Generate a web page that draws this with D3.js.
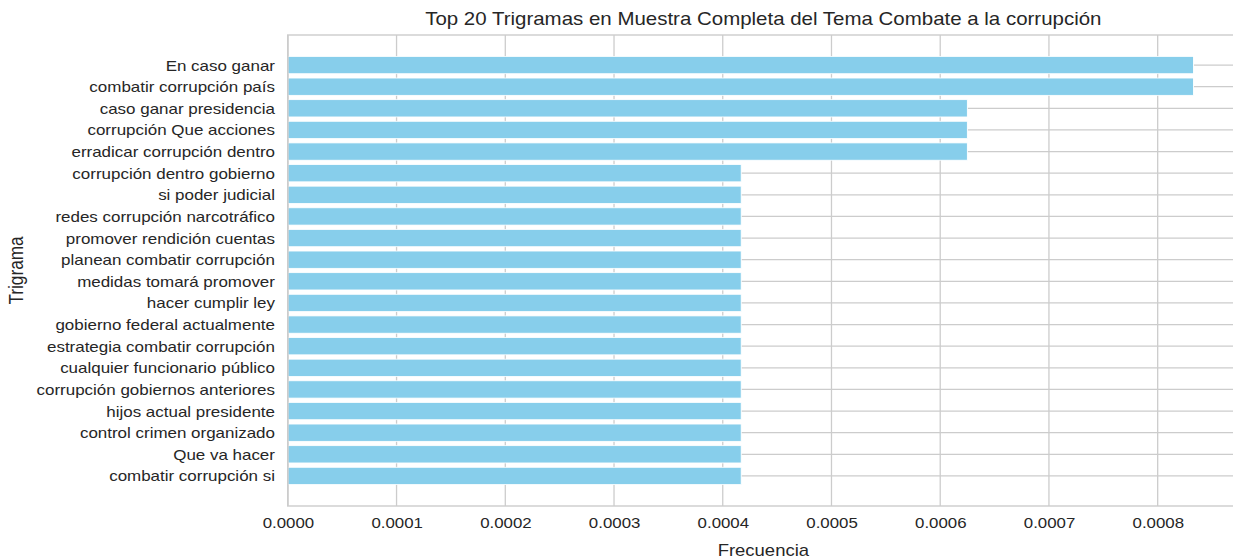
<!DOCTYPE html>
<html lang="es">
<head>
  <meta charset="utf-8">
  <title>Top 20 Trigramas</title>
  <script src="https://d3js.org/d3.v7.min.js"></script>
  <style>
    html, body { margin: 0; padding: 0; background: #fff; }
    text { font-family: "Liberation Sans", Arial, sans-serif; fill: #262626; }
  </style>
</head>
<body>
<div id="chart"></div>
<script>
  // trigramas, de arriba hacia abajo
  var trigramas = [
    "En caso ganar",
    "combatir corrupción país",
    "caso ganar presidencia",
    "corrupción Que acciones",
    "erradicar corrupción dentro",
    "corrupción dentro gobierno",
    "si poder judicial",
    "redes corrupción narcotráfico",
    "promover rendición cuentas",
    "planean combatir corrupción",
    "medidas tomará promover",
    "hacer cumplir ley",
    "gobierno federal actualmente",
    "estrategia combatir corrupción",
    "cualquier funcionario público",
    "corrupción gobiernos anteriores",
    "hijos actual presidente",
    "control crimen organizado",
    "Que va hacer",
    "combatir corrupción si"
  ];
  var frecuencias = [
    0.000833, 0.000833,
    0.000625, 0.000625, 0.000625,
    0.000417, 0.000417, 0.000417, 0.000417, 0.000417,
    0.000417, 0.000417, 0.000417, 0.000417, 0.000417,
    0.000417, 0.000417, 0.000417, 0.000417, 0.000417
  ];
  var xTicks = [0, 0.0001, 0.0002, 0.0003, 0.0004, 0.0005, 0.0006, 0.0007, 0.0008];

  var data = trigramas.map(function(t, i) { return {trigrama: t, frecuencia: frecuencias[i]}; });

  // the original picture is a bit wider than tall, so draw in a narrower box and stretch it
  var stretch = 1.17;
  var outW = 1233, outH = 560;
  var vbW = outW / stretch;

  var margin = {top: 35, right: -5, bottom: 54, left: 246};
  var width = vbW - margin.left - margin.right,
      height = outH - margin.top - margin.bottom;

  var svg = d3.select("#chart")
    .append("svg")
      .attr("width", outW)
      .attr("height", outH)
      .attr("viewBox", "0 0 " + vbW + " " + outH)
      .attr("preserveAspectRatio", "none")
      .style("display", "block");

  var g = svg.append("g")
      .attr("transform", "translate(" + margin.left + "," + margin.top + ")");

  var x = d3.scaleLinear()
    .domain([0, d3.max(frecuencias) * 1.05])
    .range([0, width]);

  var y = d3.scaleBand()
    .domain(trigramas)
    .range([0, height])
    .paddingInner(0.2)
    .paddingOuter(0.99);

  // grid
  g.append("g")
    .selectAll("line")
    .data(xTicks)
    .enter().append("line")
      .attr("x1", function(d) { return x(d); })
      .attr("x2", function(d) { return x(d); })
      .attr("y1", 0)
      .attr("y2", height)
      .attr("stroke", "#cccccc")
      .attr("stroke-width", 1.1);

  g.append("g")
    .selectAll("line")
    .data(trigramas)
    .enter().append("line")
      .attr("x1", 0)
      .attr("x2", width)
      .attr("y1", function(d) { return y(d) + y.bandwidth() / 2; })
      .attr("y2", function(d) { return y(d) + y.bandwidth() / 2; })
      .attr("stroke", "#cccccc")
      .attr("stroke-width", 1.3);

  // bars
  g.append("g")
    .selectAll("rect")
    .data(data)
    .enter().append("rect")
      .attr("x", x(0))
      .attr("y", function(d) { return y(d.trigrama); })
      .attr("width", function(d) { return x(d.frecuencia) - x(0); })
      .attr("height", y.bandwidth())
      .attr("fill", "#87ceeb")
      .attr("stroke", "#ffffff")
      .attr("stroke-width", 0.8);

  // frame
  g.append("rect")
    .attr("x", 0)
    .attr("y", 0)
    .attr("width", width)
    .attr("height", height)
    .attr("fill", "none")
    .attr("stroke", "#cccccc")
    .attr("stroke-width", 1.4);

  // axes
  var xAxis = g.append("g")
    .attr("transform", "translate(0," + height + ")")
    .call(d3.axisBottom(x).tickValues(xTicks).tickFormat(d3.format(".4f")).tickSize(0).tickPadding(12));
  xAxis.select(".domain").remove();
  xAxis.selectAll("text")
    .attr("font-size", 14.4)
    .attr("font-family", null)
    .attr("fill", "#262626");

  var yAxis = g.append("g")
    .call(d3.axisLeft(y).tickSize(0).tickPadding(11));
  yAxis.select(".domain").remove();
  yAxis.selectAll("text")
    .attr("font-size", 14.5)
    .attr("dy", "0.38em")
    .attr("font-family", null)
    .attr("fill", "#262626");

  // title and labels
  svg.append("text")
    .attr("x", margin.left + width / 2)
    .attr("y", 25)
    .attr("text-anchor", "middle")
    .attr("font-size", 17.5)
    .text("Top 20 Trigramas en Muestra Completa del Tema Combate a la corrupción");

  svg.append("text")
    .attr("x", margin.left + width / 2)
    .attr("y", 556)
    .attr("text-anchor", "middle")
    .attr("font-size", 15.8)
    .text("Frecuencia");

  svg.append("text")
    .attr("transform", "translate(20," + (margin.top + height / 2) + ") rotate(-90)")
    .attr("text-anchor", "middle")
    .attr("font-size", 17.2)
    .text("Trigrama");
</script>
</body>
</html>
